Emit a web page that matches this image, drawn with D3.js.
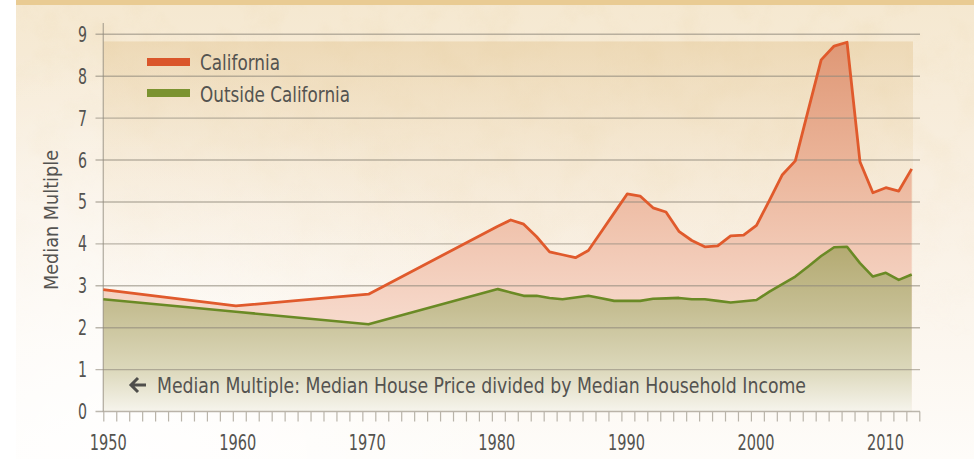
<!DOCTYPE html>
<html>
<head>
<meta charset="utf-8">
<script src="https://cdn.jsdelivr.net/npm/d3@7"></script>
<style>
  html, body { margin: 0; padding: 0; background: #ffffff; }
  svg { display: block; }
  text { font-family: "Liberation Sans Narrow", "Arial Narrow", "DejaVu Sans Condensed", "DejaVu Sans", sans-serif; font-stretch: condensed; fill: #545350; }
</style>
</head>
<body>
<svg id="chart" width="974" height="459"></svg>
<script>
// ---- data ----
const years = [1950, 1960, 1970, 1980, 1981, 1982, 1983, 1984, 1985, 1986, 1987, 1988, 1989,
  1990, 1991, 1992, 1993, 1994, 1995, 1996, 1997, 1998, 1999,
  2000, 2001, 2002, 2003, 2004, 2005, 2006, 2007, 2008, 2009, 2010, 2011, 2012];
const california = [2.91, 2.52, 2.80, 4.42, 4.57, 4.47, 4.17, 3.81, 3.74, 3.67, 3.84, 4.29, 4.74,
  5.19, 5.14, 4.86, 4.76, 4.30, 4.08, 3.93, 3.95, 4.19, 4.21,
  4.44, 5.04, 5.65, 5.98, 7.19, 8.39, 8.72, 8.81, 5.96, 5.22, 5.34, 5.26, 5.79];
const outsideCalifornia = [2.68, 2.38, 2.08, 2.92, 2.84, 2.76, 2.76, 2.71, 2.68, 2.72, 2.76, 2.70, 2.64,
  2.64, 2.64, 2.69, 2.70, 2.71, 2.68, 2.68, 2.64, 2.60, 2.63,
  2.66, 2.86, 3.04, 3.22, 3.46, 3.71, 3.92, 3.93, 3.54, 3.22, 3.31, 3.14, 3.27];
const seriesNames = ["California", "Outside California"];
const yTicks = [0, 1, 2, 3, 4, 5, 6, 7, 8, 9];
const xTickLabels = [1950, 1960, 1970, 1980, 1990, 2000, 2010];
const yAxisTitle = "Median Multiple";
const note = "Median Multiple: Median House Price divided by Median Household Income";

// ---- setup ----
const W = 974, H = 459;
const svg = d3.select("#chart");
const defs = svg.append("defs");

const x = d3.scaleLinear().domain([1950, 1970, 2012]).range([103.3, 368.5, 911.7]);
const xTick = d3.scaleLinear().domain([1950, 2013]).range([103.3, 919.3]);
const y = d3.scaleLinear().domain([0, 9]).range([411.5, 34.3]);

// gradients
function lin(id, y1, y2, stops) {
  const g = defs.append("linearGradient").attr("id", id)
    .attr("gradientUnits", "userSpaceOnUse").attr("x1", 0).attr("x2", 0).attr("y1", y1).attr("y2", y2);
  stops.forEach(s => g.append("stop").attr("offset", s[0]).attr("stop-color", s[1]).attr("stop-opacity", s[2] == null ? 1 : s[2]));
}
lin("bgGrad", 0, H, [[0, "#f5e8d0"], [0.45, "#f9f0e3"], [1, "#fefcf9"]]);
lin("plotTan", y(8.83), 411, [[0, "#e3c592", 0.45], [0.3, "#ead3ab", 0.25], [0.8, "#f4e4cc", 0]]);
lin("caGrad", y(8.9), y(0), [[0, "#de9371"], [0.35, "#ebb398"], [0.7, "#f5d3c3"], [1, "#fbece5"]]);
lin("outGrad", y(4), y(0), [[0, "#b3a970"], [0.4, "#c6bf94"], [0.75, "#dcd8bb"], [1, "#f6f4ec"]]);

const rg = defs.append("radialGradient").attr("id", "glow")
  .attr("gradientUnits", "userSpaceOnUse").attr("cx", 120).attr("cy", 459).attr("r", 420);
rg.append("stop").attr("offset", 0).attr("stop-color", "#ffffff").attr("stop-opacity", 0.9);
rg.append("stop").attr("offset", 1).attr("stop-color", "#ffffff").attr("stop-opacity", 0);

// texture filter
const f = defs.append("filter").attr("id", "tex").attr("x", 0).attr("y", 0).attr("width", "100%").attr("height", "100%");
f.append("feTurbulence").attr("type", "fractalNoise").attr("baseFrequency", 0.025).attr("numOctaves", 4).attr("seed", 3);
f.append("feColorMatrix").attr("type", "matrix")
  .attr("values", "0 0 0 0 0.85  0 0 0 0 0.70  0 0 0 0 0.45  0 0 0 -1.6 0.95");
const texMask = defs.append("linearGradient").attr("id", "texMaskGrad").attr("x1", 0).attr("x2", 0).attr("y1", 0).attr("y2", 1);
texMask.append("stop").attr("offset", 0).attr("stop-color", "#fff").attr("stop-opacity", 1);
texMask.append("stop").attr("offset", 0.75).attr("stop-color", "#fff").attr("stop-opacity", 0);
const mask = defs.append("mask").attr("id", "texMask");
mask.append("rect").attr("x", 16).attr("y", 0).attr("width", W - 16).attr("height", H).attr("fill", "url(#texMaskGrad)");

// background panel
svg.append("rect").attr("x", 16).attr("y", 0).attr("width", W - 16).attr("height", H).attr("fill", "url(#bgGrad)");
svg.append("rect").attr("x", 16).attr("y", 0).attr("width", W - 16).attr("height", H)
  .attr("filter", "url(#tex)").attr("mask", "url(#texMask)").attr("opacity", 0.4);
svg.append("rect").attr("x", 16).attr("y", 0).attr("width", W - 16).attr("height", H).attr("fill", "url(#glow)");
svg.append("rect").attr("x", 16).attr("y", 0).attr("width", W - 16).attr("height", 5).attr("fill", "#e9cb93");

// plot tan panel
svg.append("rect").attr("x", xTick(1950)).attr("y", y(8.83))
  .attr("width", 913 - xTick(1950)).attr("height", y(0) - y(8.83)).attr("fill", "url(#plotTan)");

// areas
const dataCA = years.map((yr, i) => ({ year: yr, v: california[i] }));
const dataOut = years.map((yr, i) => ({ year: yr, v: outsideCalifornia[i] }));
const area = d3.area().x(d => x(d.year)).y0(y(0)).y1(d => y(d.v));
const line = d3.line().x(d => x(d.year)).y(d => y(d.v));

svg.append("path").datum(dataCA).attr("d", area).attr("fill", "url(#caGrad)").attr("opacity", 0.95);
svg.append("path").datum(dataOut).attr("d", area).attr("fill", "url(#outGrad)");

// gridlines
const grid = svg.append("g");
grid.selectAll("line").data(yTicks).join("line")
  .attr("x1", 95.5).attr("x2", 920)
  .attr("y1", d => y(d)).attr("y2", d => y(d))
  .attr("stroke", "#8f887c").attr("stroke-opacity", 0.6).attr("stroke-width", 1.4);

// vertical axis line
svg.append("line").attr("x1", xTick(1950)).attr("x2", xTick(1950)).attr("y1", 23).attr("y2", y(0))
  .attr("stroke", "#8f887c").attr("stroke-opacity", 0.6).attr("stroke-width", 1.4);

// bottom ticks via axis
const xAxis = d3.axisBottom(xTick).tickValues(d3.range(1950, 2014)).tickSize(10).tickFormat("");
const gx = svg.append("g").attr("transform", `translate(0,${y(0)})`).call(xAxis);
gx.select(".domain").remove();
gx.selectAll(".tick line").attr("stroke", "#b9b4aa").attr("stroke-width", 1.2);

// x labels
svg.append("g").selectAll("text").data(xTickLabels).join("text")
  .attr("x", d => xTick(d) + 5).attr("y", 450)
  .attr("text-anchor", "middle").attr("font-size", 20.5)
  .attr("textLength", 37).attr("lengthAdjust", "spacingAndGlyphs")
  .text(d => d);

// y labels
svg.append("g").selectAll("text").data(yTicks).join("text")
  .attr("x", 87).attr("y", d => y(d) + 7.5)
  .attr("text-anchor", "end").attr("font-size", 20.5)
  .attr("textLength", 9).attr("lengthAdjust", "spacingAndGlyphs")
  .text(d => d);

// y axis title
svg.append("text").attr("transform", "translate(57.5,220) rotate(-90)")
  .attr("text-anchor", "middle").attr("font-size", 20)
  .attr("textLength", 140).attr("lengthAdjust", "spacingAndGlyphs").text(yAxisTitle);

// lines
svg.append("path").datum(dataOut).attr("d", line).attr("fill", "none")
  .attr("stroke", "#6a8a25").attr("stroke-width", 2.6).attr("stroke-linejoin", "round");
svg.append("path").datum(dataCA).attr("d", line).attr("fill", "none")
  .attr("stroke", "#e05a2c").attr("stroke-width", 2.8).attr("stroke-linejoin", "round");

// legend
const legendColors = ["#da562b", "#7b9330"];
const legendWidths = [80, 150];
const lg = svg.append("g");
seriesNames.forEach((name, i) => {
  lg.append("rect").attr("x", 147).attr("y", 58 + i * 31).attr("width", 43).attr("height", 8).attr("fill", legendColors[i]);
  lg.append("text").attr("x", 200).attr("y", 70 + i * 31.5).attr("font-size", 21)
    .attr("textLength", legendWidths[i]).attr("lengthAdjust", "spacingAndGlyphs").text(name);
});

// note
const ng = svg.append("g");
ng.append("path").attr("d", "M146,385 L131,385 M138,378 L131,385 L138,392")
  .attr("fill", "none").attr("stroke", "#4f4e4b").attr("stroke-width", 3);
ng.append("text").attr("x", 157).attr("y", 392.5).attr("font-size", 21)
  .attr("textLength", 649).attr("lengthAdjust", "spacingAndGlyphs").text(note);
</script>
</body>
</html>
